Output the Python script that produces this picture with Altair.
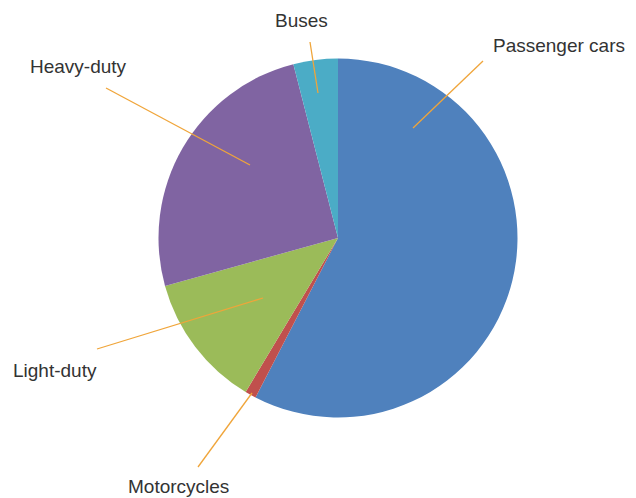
import altair as alt
import pandas as pd

# ---- data ----
categories = ["Passenger cars", "Motorcycles", "Light-duty", "Heavy-duty", "Buses"]
shares = [57.6, 1.0, 12.1, 25.3, 4.0]
colors = ["#4F81BD", "#C0504D", "#9BBB59", "#8064A2", "#4BACC6"]

# ---- annotation layout (pixel positions of labels and leader lines) ----
label_x = [493, 128, 13, 30, 275]
label_y = [52, 493, 377, 73, 27]
lead_x1 = [483, 198, 97, 106, 310]
lead_y1 = [61, 467, 349, 88, 42]
lead_x2 = [413, 252, 263, 250, 318]
lead_y2 = [128, 393, 298, 165, 93]

W, H = 636, 498
CX, CY, R = 338, 238, 179.5

pie_df = pd.DataFrame({"category": categories, "share": shares,
                       "idx": list(range(len(categories)))})
ann_df = pd.DataFrame({"category": categories, "lx": label_x, "ly": label_y,
                       "x1": lead_x1, "y1": lead_y1, "x2": lead_x2, "y2": lead_y2})

xs = alt.Scale(domain=[0, W], range=[0, W])
ys = alt.Scale(domain=[0, H], range=[0, H])

pie = alt.Chart(pie_df).mark_arc(radius=R, stroke=None).encode(
    theta=alt.Theta("share:Q", stack=True),
    color=alt.Color("category:N", scale=alt.Scale(domain=categories, range=colors), legend=None),
    order=alt.Order("idx:Q", sort="ascending"),
    x=alt.value(CX),
    y=alt.value(CY),
)

leaders = alt.Chart(ann_df).mark_rule(color="#F0A53A", strokeWidth=1.3).encode(
    x=alt.X("x1:Q", scale=xs, axis=None),
    y=alt.Y("y1:Q", scale=ys, axis=None),
    x2="x2:Q",
    y2="y2:Q",
)

labels = alt.Chart(ann_df).mark_text(
    align="left", baseline="alphabetic", font="Liberation Sans", fontSize=19, color="#333333"
).encode(
    x=alt.X("lx:Q", scale=xs, axis=None),
    y=alt.Y("ly:Q", scale=ys, axis=None),
    text="category:N",
)

chart = alt.layer(pie, leaders, labels).properties(
    width=W, height=H, autosize=alt.AutoSizeParams(type="none"), padding=0
).configure_view(stroke=None).resolve_scale(x="shared", y="shared")

chart.save("out.html", embed_options={"renderer": "svg", "actions": False})
